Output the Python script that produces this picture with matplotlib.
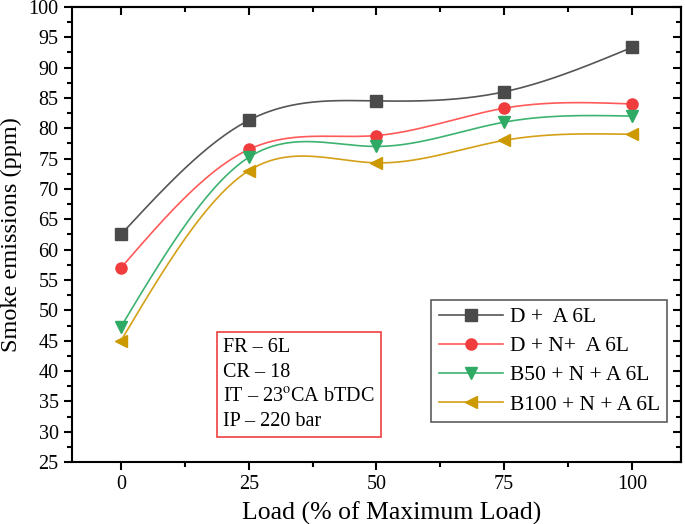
import numpy as np
from matplotlib import pyplot
from matplotlib.ticker import MultipleLocator

pyplot.rcParams['font.family'] = ['Liberation Serif', 'DejaVu Serif']
pyplot.rcParams['mathtext.fontset'] = 'stix'

# data
load = [0, 25, 50, 75, 100]
smoke_d_a = [62.5, 81.3, 84.5, 86.0, 93.3]
smoke_d_n_a = [57.0, 76.5, 78.8, 83.3, 84.0]
smoke_b50 = [47.3, 75.2, 77.0, 81.0, 82.0]
smoke_b100 = [45.0, 73.0, 74.3, 78.0, 79.0]
labels = ['D +  A 6L', 'D + N+  A 6L', 'B50 + N + A 6L', 'B100 + N + A 6L']


# natural cubic spline for the smooth connecting lines (like Origin 'Spline')
def spline_line(x, y, n=200):
    x = np.asarray(x, float)
    y = np.asarray(y, float)
    k = len(x)
    h = np.diff(x)
    A = np.zeros((k, k))
    b = np.zeros(k)
    A[0, 0] = 1
    A[-1, -1] = 1
    for i in range(1, k - 1):
        A[i, i - 1] = h[i - 1]
        A[i, i] = 2 * (h[i - 1] + h[i])
        A[i, i + 1] = h[i]
        b[i] = 6 * ((y[i + 1] - y[i]) / h[i] - (y[i] - y[i - 1]) / h[i - 1])
    m = np.linalg.solve(A, b)
    xs = np.linspace(x[0], x[-1], n)
    idx = np.clip(np.searchsorted(x, xs) - 1, 0, k - 2)
    x0, x1 = x[idx], x[idx + 1]
    hh = x1 - x0
    t0 = x1 - xs
    t1 = xs - x0
    ys = (m[idx] * t0 ** 3 + m[idx + 1] * t1 ** 3) / (6 * hh) \
        + (y[idx] / hh - m[idx] * hh / 6) * t0 + (y[idx + 1] / hh - m[idx + 1] * hh / 6) * t1
    return xs, ys


fig = pyplot.figure(figsize=(6.85, 5.24), dpi=100)
ax = fig.add_axes([0.105, 0.118, 0.889, 0.869])

series = [smoke_d_a, smoke_d_n_a, smoke_b50, smoke_b100]
line_colors = ['#555555', '#ff5a5a', '#3cb371', '#d4a017']
marker_colors = ['#4a4a4a', '#f03c3c', '#2faa65', '#cc9900']
markers = ['s', 'o', 'v', '<']

handles = []
for yv, lc, mc, mk, lab in zip(series, line_colors, marker_colors, markers, labels):
    xs, ys = spline_line(load, yv)
    ax.plot(xs, ys, color=lc, linewidth=1.2)
    ax.plot(load, yv, linestyle='none', marker=mk, markersize=8, color=mc)
    h, = ax.plot([], [], color=lc, linewidth=1.2, marker=mk, markersize=8,
                 markerfacecolor=mc, markeredgecolor=mc, label=lab)
    handles.append(h)

ax.set_xlim(-9.6, 109.6)
ax.set_ylim(25, 100)
ax.xaxis.set_major_locator(MultipleLocator(25))
ax.xaxis.set_minor_locator(MultipleLocator(12.5))
ax.yaxis.set_major_locator(MultipleLocator(5))
ax.yaxis.set_minor_locator(MultipleLocator(2.5))
ax.tick_params(which='both', direction='out', width=1.5, labelsize=14.5, top=False, right=False)
ax.tick_params(which='major', length=6)
ax.tick_params(which='minor', length=3.5)
for s in ax.spines.values():
    s.set_linewidth(1.5)

# inward mirror ticks on top and right
sec_x = ax.secondary_xaxis('top')
sec_x.xaxis.set_major_locator(MultipleLocator(25))
sec_x.xaxis.set_minor_locator(MultipleLocator(12.5))
sec_x.tick_params(which='both', direction='in', width=1.5, labeltop=False)
sec_x.tick_params(which='major', length=6)
sec_x.tick_params(which='minor', length=3.5)
sec_x.spines['top'].set_linewidth(1.5)
sec_y = ax.secondary_yaxis('right')
sec_y.yaxis.set_major_locator(MultipleLocator(5))
sec_y.yaxis.set_minor_locator(MultipleLocator(2.5))
sec_y.tick_params(which='both', direction='in', width=1.5, labelright=False)
sec_y.tick_params(which='major', length=6)
sec_y.tick_params(which='minor', length=3.5)
sec_y.spines['right'].set_linewidth(1.5)

ax.set_xlabel('Load (% of Maximum Load)', fontsize=18.5)
ax.xaxis.set_label_coords(0.525, -0.086)
ax.set_ylabel('Smoke emissions (ppm)', fontsize=17.5)
ax.yaxis.set_label_coords(-0.082, 0.5)

leg = ax.legend(handles=handles, loc='lower right', bbox_to_anchor=(0.978, 0.088),
                fontsize=15.5, frameon=True, fancybox=False, edgecolor='#333333',
                handlelength=3.0, handletextpad=0.3, borderpad=0.35, labelspacing=0.42,
                borderaxespad=0)
leg.get_frame().set_linewidth(1.2)

ax.text(0.248, 0.068, 'FR – 6L\nCR – 18\nIT – 23$^{\\mathrm{o}}$CA bTDC\nIP – 220 bar',
        transform=ax.transAxes, fontsize=14.5, va='bottom', ha='left', linespacing=1.4,
        bbox=dict(boxstyle='square,pad=0.3', facecolor='white', edgecolor='#f04040', linewidth=1.2))

fig.savefig('out.png', dpi=100)
